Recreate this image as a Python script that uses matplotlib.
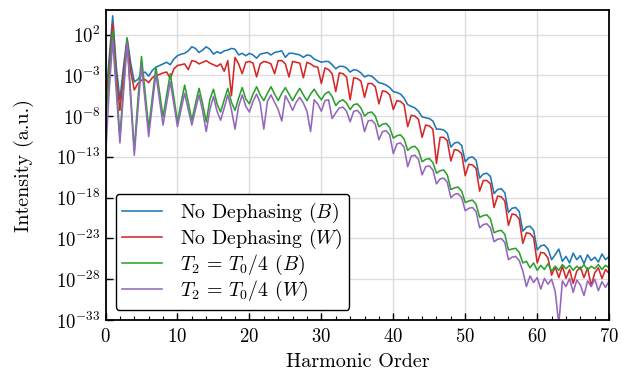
import numpy as np
import matplotlib
matplotlib.use("Agg")
import matplotlib.pyplot as plt
from matplotlib.ticker import MultipleLocator, NullLocator

plt.rcParams["font.family"] = ["cmr10", "DejaVu Serif"]
plt.rcParams["mathtext.fontset"] = "cm"
plt.rcParams["axes.formatter.use_mathtext"] = True
plt.rcParams["axes.unicode_minus"] = False

# harmonic order sampled every half harmonic
harmonic = np.arange(0, 70.01, 0.5)

# log10 of intensity, one value per half harmonic
logB_nodeph = [
    -6.5, -1.0, 4.3, -2.0, -6.0, -2.0, 1.6, -1.5, -3.8, -3.5,
    -2.8, -2.6, -3.1, -2.4, -2.0, -1.8, -1.6, -1.4, -1.7, -1.0,
    -0.6, -0.4, -0.3, 0.0, 0.5, 0.3, -0.2, 0.1, 0.5, 0.2,
    -0.4, -0.1, -0.3, 0.0, 0.1, 0.3, 0.2, -0.5, -0.3, -0.6,
    -0.3, -0.5, -0.9, -0.4, -0.3, -0.2, -0.5, -0.2, -0.1, 0.0,
    -0.8, -0.3, -0.3, -0.4, -0.5, -0.8, -0.5, -0.6, -1.0, -1.2,
    -1.4, -1.3, -1.3, -1.7, -2.2, -1.9, -1.9, -2.1, -2.6, -2.3,
    -2.4, -2.7, -3.2, -3.0, -3.1, -3.5, -3.9, -4.0, -4.2, -4.5,
    -5.0, -5.1, -5.3, -5.8, -6.6, -6.8, -7.0, -7.4, -8.1, -8.2,
    -8.3, -8.6, -9.6, -9.6, -9.7, -10.1, -11.8, -11.3, -11.2, -11.6,
    -13.6, -13.1, -13.0, -13.4, -15.6, -15.1, -15.0, -15.4, -17.5, -17.0,
    -16.9, -17.4, -19.8, -19.3, -19.2, -19.7, -22.1, -21.6, -21.5, -22.0,
    -24.4, -23.9, -23.8, -24.3, -25.6, -25.0, -24.3, -25.8, -25.2, -26.0,
    -24.8, -25.6, -25.1, -26.1, -25.0, -25.7, -25.3, -25.9, -24.9, -25.6,
    -25.2,
]
logW_nodeph = [
    -7.5, -2.0, 3.3, -3.0, -7.3, -3.0, 1.3, -2.5, -4.8, -4.0,
    -3.6, -3.5, -3.9, -3.3, -3.0, -2.9, -2.7, -2.6, -3.4, -2.2,
    -1.8, -1.7, -1.6, -2.3, -1.2, -1.3, -1.6, -1.4, -1.2, -1.5,
    -1.7, -1.9, -1.6, -2.5, -1.2, -5.5, -0.8, -1.6, -2.8, -1.4,
    -1.3, -1.5, -3.2, -1.6, -1.3, -1.4, -1.6, -2.8, -1.2, -1.2,
    -1.6, -3.2, -1.3, -1.4, -1.5, -3.3, -1.4, -1.6, -1.9, -2.0,
    -4.0, -2.1, -2.3, -2.8, -5.0, -2.7, -2.8, -3.2, -6.0, -3.3,
    -3.4, -3.7, -5.7, -4.0, -4.0, -4.4, -6.5, -4.9, -5.0, -5.4,
    -7.2, -6.1, -6.2, -6.6, -9.3, -7.9, -8.0, -8.4, -10.6, -9.1,
    -9.2, -9.6, -13.8, -10.6, -10.6, -11.0, -13.5, -12.1, -12.2, -12.6,
    -15.3, -13.9, -14.0, -14.4, -17.2, -15.9, -15.9, -16.3, -19.2, -17.8,
    -17.9, -18.4, -21.4, -20.0, -20.1, -20.6, -23.6, -22.3, -22.4, -22.9,
    -26.0, -24.7, -24.8, -25.4, -27.5, -26.5, -27.8, -26.4, -27.9, -26.8,
    -28.5, -27.0, -26.5, -27.8, -26.6, -28.8, -27.2, -26.6, -27.9, -26.8,
    -27.3,
]
logB_T2 = [
    -9.0, -3.0, 2.4, -4.0, -10.5, -4.5, 1.5, -5.3, -12.2, -6.0,
    -0.7, -5.0, -9.5, -5.7, -2.0, -5.0, -8.1, -5.4, -2.8, -5.7,
    -8.7, -6.4, -4.2, -6.3, -8.5, -6.5, -4.6, -6.5, -8.7, -6.0,
    -4.7, -6.5, -7.5, -6.0, -4.6, -6.3, -7.3, -5.8, -4.5, -5.9,
    -6.5, -5.3, -4.4, -5.4, -6.1, -5.2, -4.4, -5.3, -6.1, -5.2,
    -4.5, -5.3, -6.1, -5.3, -4.6, -5.4, -6.1, -5.3, -4.7, -5.4,
    -6.0, -5.3, -5.0, -5.6, -6.7, -6.2, -6.0, -6.4, -7.2, -6.6,
    -6.5, -7.0, -8.0, -7.6, -7.5, -8.0, -9.3, -9.0, -8.9, -9.4,
    -10.7, -10.4, -10.3, -10.8, -12.2, -11.8, -11.7, -12.2, -13.6, -13.3,
    -13.2, -13.7, -15.0, -14.7, -14.6, -15.2, -17.0, -16.8, -16.7, -17.2,
    -18.6, -18.4, -18.3, -18.8, -20.4, -20.2, -20.1, -20.6, -22.3, -22.1,
    -22.0, -22.5, -24.4, -24.3, -24.2, -24.7, -26.0, -25.8, -26.6, -26.0,
    -26.9, -26.3, -26.8, -26.1, -27.0, -26.4, -26.9, -26.2, -26.7, -26.3,
    -26.9, -26.4, -26.8, -26.2, -26.9, -26.4, -26.7, -26.2, -26.8, -26.3,
    -26.6,
]
logW_T2 = [
    -13.0, -5.0, 1.3, -5.0, -11.3, -5.2, 0.9, -6.0, -12.8, -7.2,
    -1.8, -6.2, -10.5, -6.6, -2.8, -6.0, -9.1, -6.4, -3.8, -6.5,
    -9.3, -7.2, -5.2, -7.2, -9.1, -7.2, -5.4, -7.4, -9.9, -7.2,
    -5.6, -7.4, -8.5, -7.0, -5.4, -7.2, -9.6, -6.8, -5.4, -6.8,
    -7.5, -6.2, -5.3, -6.4, -9.6, -6.2, -5.4, -6.3, -7.2, -8.6,
    -5.5, -6.3, -7.3, -6.3, -5.7, -6.4, -7.4, -9.9, -6.0, -6.5,
    -7.4, -6.1, -6.0, -8.3, -7.6, -7.0, -6.9, -7.4, -8.7, -7.4,
    -7.3, -7.8, -9.9, -8.6, -8.5, -9.0, -10.9, -9.9, -9.8, -10.3,
    -12.6, -11.4, -11.3, -11.8, -14.2, -12.9, -12.8, -13.3, -15.2, -14.2,
    -14.1, -14.6, -16.3, -15.7, -15.6, -16.1, -18.0, -17.6, -17.5, -18.0,
    -19.6, -19.3, -19.2, -19.7, -21.7, -21.3, -21.2, -21.7, -23.4, -23.1,
    -23.0, -23.5, -25.6, -25.3, -25.2, -25.7, -27.0, -28.9, -27.6, -28.4,
    -27.8, -29.2, -27.9, -28.6, -28.0, -29.5, -33.5, -28.2, -28.9, -27.9,
    -29.6, -28.1, -28.7, -30.0, -28.2, -28.9, -28.0, -29.4, -28.3, -29.0,
    -28.2,
]

series = [
    (logB_nodeph, "#1f77b4", r"No Dephasing ($B$)"),
    (logW_nodeph, "#d62728", r"No Dephasing ($W$)"),
    (logB_T2, "#2ca02c", r"$T_2\,=\,T_0/4$ ($B$)"),
    (logW_T2, "#9467bd", r"$T_2\,=\,T_0/4$ ($W$)"),
]

fig = plt.figure(figsize=(6.28, 3.73), dpi=100)
ax = fig.add_axes([0.168, 0.142, 0.802, 0.831])

for vals, color, label in series:
    ax.plot(harmonic, 10.0 ** np.array(vals), color=color, lw=1.15, label=label)

ax.set_yscale("log")
ax.set_xlim(0, 70)
ax.set_ylim(1e-33, 1e5)
ax.set_yticks(10.0 ** np.arange(-33, 3, 5))
ax.yaxis.set_minor_locator(NullLocator())
ax.xaxis.set_major_locator(MultipleLocator(10))
ax.xaxis.set_minor_locator(MultipleLocator(2))
ax.tick_params(which="both", direction="in", labelsize=13.5)
ax.tick_params(axis="x", which="major", pad=6)
ax.tick_params(which="major", length=5, width=1.0)
ax.tick_params(which="minor", length=3, width=0.8)
ax.grid(True, which="major", color="#dddddd", lw=1.0)
ax.set_axisbelow(True)
for s in ax.spines.values():
    s.set_linewidth(1.3)

ax.set_xlabel("Harmonic Order", fontsize=14.5, labelpad=5)
ax.set_ylabel("Intensity (a.u.)", fontsize=14.5, labelpad=16)

leg = ax.legend(loc="lower left", bbox_to_anchor=(0.012, 0.02), fontsize=14.3,
                frameon=True, fancybox=True, edgecolor="black", framealpha=1,
                borderaxespad=0.2, handlelength=2.0, handletextpad=0.9,
                labelspacing=0.1, borderpad=0.35)
leg.get_frame().set_linewidth(1.0)

fig.savefig("out.png", dpi=100)
